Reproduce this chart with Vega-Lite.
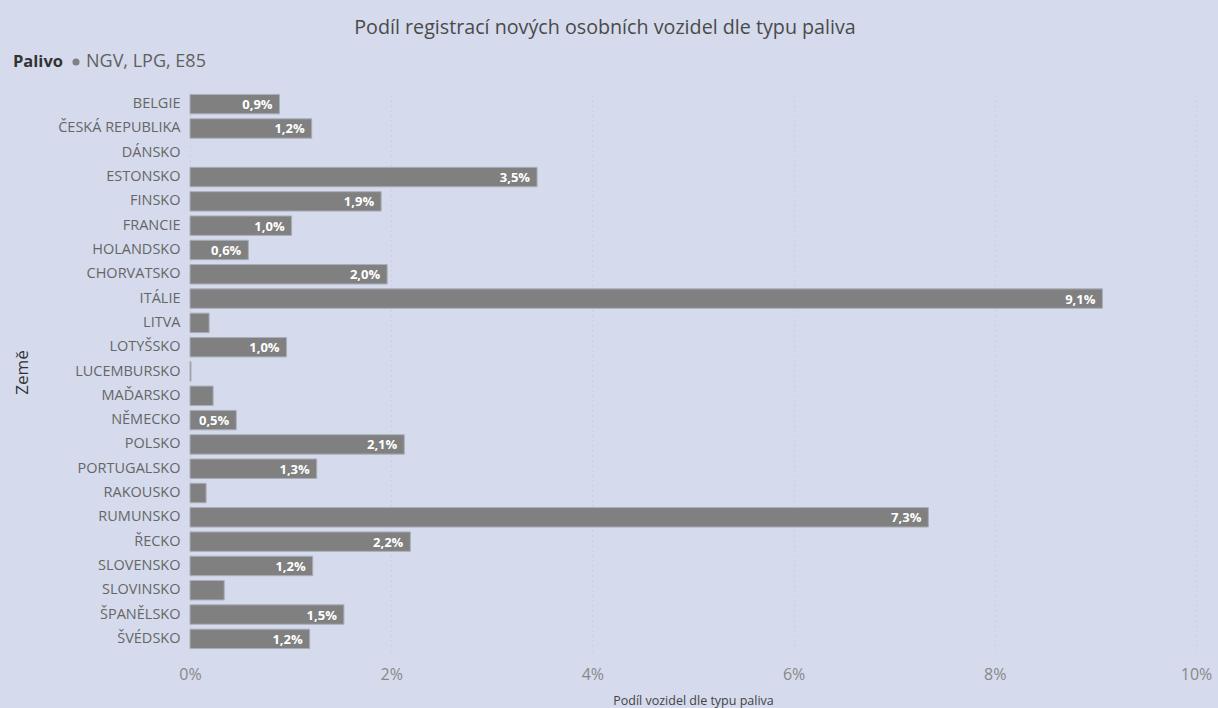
{
  "$schema": "https://vega.github.io/schema/vega-lite/v6.json",
  "width": 1006,
  "height": 559,
  "autosize": {"type": "none"},
  "padding": {"left": 190, "top": 92, "right": 22, "bottom": 57},
  "background": "#D5DBEC",
  "config": {
    "locale": {"number": {"decimal": ",", "thousands": " ", "grouping": [3], "currency": ["", " Kč"]}},
    "font": "Open Sans",
    "view": {"stroke": null}
  },
  "title": {
    "text": "Podíl registrací nových osobních vozidel dle typu paliva",
    "anchor": "middle",
    "frame": "group",
    "dx": -88,
    "offset": 15,
    "fontSize": 19.7,
    "fontWeight": "normal",
    "color": "#4A4A4A",
    "font": "Open Sans"
  },
  "data": {
    "values": [
      {"zeme": "BELGIE", "palivo": "NGV, LPG, E85", "podil": 0.0089},
      {"zeme": "ČESKÁ REPUBLIKA", "palivo": "NGV, LPG, E85", "podil": 0.0121},
      {"zeme": "DÁNSKO", "palivo": "NGV, LPG, E85", "podil": 0.0},
      {"zeme": "ESTONSKO", "palivo": "NGV, LPG, E85", "podil": 0.0345},
      {"zeme": "FINSKO", "palivo": "NGV, LPG, E85", "podil": 0.0190},
      {"zeme": "FRANCIE", "palivo": "NGV, LPG, E85", "podil": 0.0101},
      {"zeme": "HOLANDSKO", "palivo": "NGV, LPG, E85", "podil": 0.0058},
      {"zeme": "CHORVATSKO", "palivo": "NGV, LPG, E85", "podil": 0.0196},
      {"zeme": "ITÁLIE", "palivo": "NGV, LPG, E85", "podil": 0.0907},
      {"zeme": "LITVA", "palivo": "NGV, LPG, E85", "podil": 0.0019},
      {"zeme": "LOTYŠSKO", "palivo": "NGV, LPG, E85", "podil": 0.0096},
      {"zeme": "LUCEMBURSKO", "palivo": "NGV, LPG, E85", "podil": 0.0001},
      {"zeme": "MAĎARSKO", "palivo": "NGV, LPG, E85", "podil": 0.0023},
      {"zeme": "NĚMECKO", "palivo": "NGV, LPG, E85", "podil": 0.0046},
      {"zeme": "POLSKO", "palivo": "NGV, LPG, E85", "podil": 0.0213},
      {"zeme": "PORTUGALSKO", "palivo": "NGV, LPG, E85", "podil": 0.0126},
      {"zeme": "RAKOUSKO", "palivo": "NGV, LPG, E85", "podil": 0.0016},
      {"zeme": "RUMUNSKO", "palivo": "NGV, LPG, E85", "podil": 0.0734},
      {"zeme": "ŘECKO", "palivo": "NGV, LPG, E85", "podil": 0.0219},
      {"zeme": "SLOVENSKO", "palivo": "NGV, LPG, E85", "podil": 0.0122},
      {"zeme": "SLOVINSKO", "palivo": "NGV, LPG, E85", "podil": 0.0034},
      {"zeme": "ŠPANĚLSKO", "palivo": "NGV, LPG, E85", "podil": 0.0153},
      {"zeme": "ŠVÉDSKO", "palivo": "NGV, LPG, E85", "podil": 0.0119}
    ]
  },
  "encoding": {
    "y": {
      "field": "zeme",
      "type": "nominal",
      "sort": null,
      "scale": {"paddingInner": 0.2, "paddingOuter": 0.1},
      "axis": {
        "title": "Země",
        "titleFontSize": 17,
        "titleFontWeight": "normal",
        "titleColor": "#333333",
        "titleX": -168,
        "titleY": 280,
        "titleAngle": -90,
        "titleAlign": "center",
        "titleBaseline": "middle",
        "labelFontSize": 14.5,
        "labelColor": "#666666",
        "labelPadding": 10,
        "ticks": false,
        "domain": false
      }
    },
    "x": {
      "field": "podil",
      "type": "quantitative",
      "scale": {"domain": [0, 0.1], "nice": false},
      "axis": {
        "title": "Podíl vozidel dle typu paliva",
        "titleFontSize": 12.5,
        "titleFontWeight": "normal",
        "titleColor": "#444444",
        "titlePadding": 12,
        "format": ".0%",
        "values": [0, 0.02, 0.04, 0.06, 0.08, 0.1],
        "labelFontSize": 16,
        "labelColor": "#888888",
        "labelPadding": 15,
        "labelFlush": false,
        "ticks": false,
        "domain": false,
        "grid": true,
        "gridColor": "#BFC5D6",
        "gridDash": [1, 4],
        "gridWidth": 1
      }
    }
  },
  "layer": [
    {
      "mark": {"type": "bar", "stroke": "#A9AEBB", "strokeWidth": 1},
      "encoding": {
        "strokeOpacity": {"condition": {"test": "datum.podil > 0", "value": 1}, "value": 0},
        "color": {
          "field": "palivo",
          "type": "nominal",
          "scale": {"range": ["#808080"]},
          "legend": {
            "title": "Palivo",
            "orient": "none",
            "direction": "horizontal",
            "legendX": -177,
            "legendY": -39,
            "titleOrient": "left",
            "titleFontSize": 16.5,
            "titleFontWeight": "bold",
            "titleColor": "#333333",
            "titlePadding": 4,
            "labelFontSize": 18,
            "labelColor": "#606060",
            "symbolType": "circle",
            "symbolSize": 50,
            "symbolStrokeWidth": 0,
            "labelOffset": 1
          }
        }
      }
    },
    {
      "transform": [{"filter": "datum.podil >= 0.004"}],
      "mark": {
        "type": "text",
        "align": "right",
        "baseline": "middle",
        "dx": -7,
        "dy": 1,
        "color": "#FFFFFF",
        "fontSize": 13,
        "fontWeight": "bold"
      },
      "encoding": {
        "text": {"field": "podil", "type": "quantitative", "format": ".1%"}
      }
    }
  ]
}
